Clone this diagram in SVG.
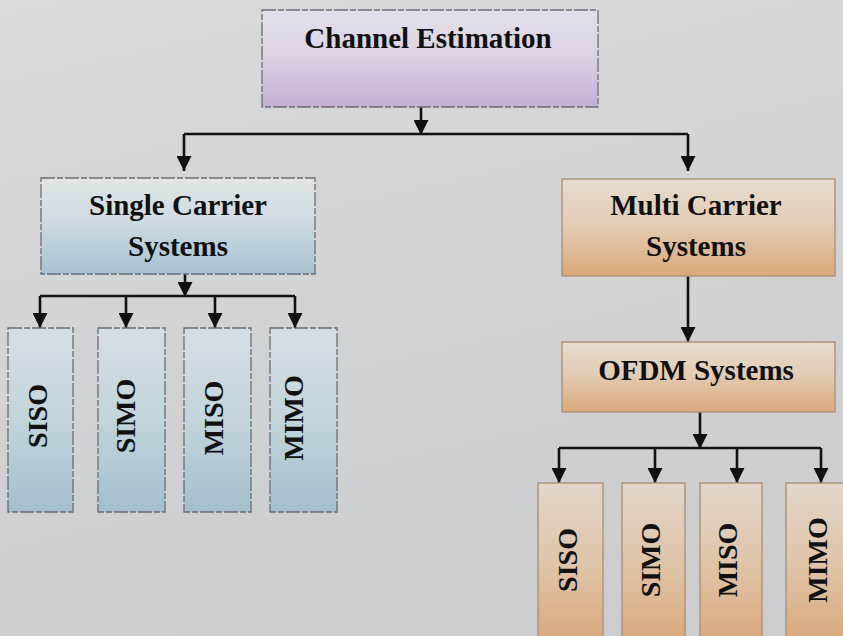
<svg xmlns="http://www.w3.org/2000/svg" width="843" height="636" viewBox="0 0 843 636">
  <defs>
    <linearGradient id="bg" x1="0" y1="0" x2="0.3" y2="1">
      <stop offset="0" stop-color="#d9dbdb"/>
      <stop offset="1" stop-color="#cbcdce"/>
    </linearGradient>
    <linearGradient id="gPurple" x1="0" y1="0" x2="0" y2="1">
      <stop offset="0" stop-color="#e3e0e8"/>
      <stop offset="0.45" stop-color="#dcd3e4"/>
      <stop offset="1" stop-color="#c4afd6"/>
    </linearGradient>
    <linearGradient id="gBlue" x1="0" y1="0" x2="0" y2="1">
      <stop offset="0" stop-color="#e0e4e6"/>
      <stop offset="0.4" stop-color="#d2dde2"/>
      <stop offset="1" stop-color="#a6c2d2"/>
    </linearGradient>
    <linearGradient id="gBlueTall" x1="0" y1="0" x2="0" y2="1">
      <stop offset="0" stop-color="#d6dfe3"/>
      <stop offset="0.5" stop-color="#c2d4dc"/>
      <stop offset="1" stop-color="#a3bfcd"/>
    </linearGradient>
    <linearGradient id="gOrange" x1="0" y1="0" x2="0" y2="1">
      <stop offset="0" stop-color="#e6dbcf"/>
      <stop offset="0.45" stop-color="#e3cdb6"/>
      <stop offset="1" stop-color="#daa879"/>
    </linearGradient>
    <linearGradient id="gOrangeTall" x1="0" y1="0" x2="0" y2="1">
      <stop offset="0" stop-color="#e2d6ca"/>
      <stop offset="0.5" stop-color="#dfc3a6"/>
      <stop offset="1" stop-color="#d8a474"/>
    </linearGradient>
    <marker id="arrow" viewBox="0 0 10 10" refX="10" refY="5" markerWidth="17" markerHeight="15" markerUnits="userSpaceOnUse" orient="auto">
      <path d="M0,0 L10,5 L0,10 z" fill="#111"/>
    </marker>
    <style>
      .box { stroke: #6c6c72; stroke-width: 1.3; stroke-dasharray: 14 2 6 2; }
      .obox { stroke: #b09478; stroke-width: 1.5; }
      .lbl { font-family: "Liberation Serif", "Times New Roman", serif; font-weight: bold; font-size: 29px; fill: #111; text-anchor: middle; }
      .vlbl { font-family: "Liberation Serif", "Times New Roman", serif; font-weight: bold; font-size: 28px; fill: #111; text-anchor: middle; }
      .ln { fill: none; stroke: #111; stroke-width: 2.6; }
      .ar { fill: none; stroke: #111; stroke-width: 2.6; marker-end: url(#arrow); }
    </style>
  </defs>

  <rect x="0" y="0" width="843" height="636" fill="url(#bg)"/>

  <g id="connectors">
    <path class="ar" d="M421,107 V135"/>
    <path class="ln" d="M184,134 H688"/>
    <path class="ar" d="M184,134 V171"/>
    <path class="ar" d="M688,134 V171"/>

    <path class="ar" d="M185,274 V297"/>
    <path class="ln" d="M40,296 H295"/>
    <path class="ar" d="M40,296 V328"/>
    <path class="ar" d="M126,296 V328"/>
    <path class="ar" d="M215,296 V328"/>
    <path class="ar" d="M295,296 V328"/>

    <path class="ar" d="M688,276 V342"/>

    <path class="ar" d="M700,412 V449"/>
    <path class="ln" d="M559,448 H821"/>
    <path class="ar" d="M559,448 V483"/>
    <path class="ar" d="M655,448 V483"/>
    <path class="ar" d="M737,448 V483"/>
    <path class="ar" d="M821,448 V483"/>
  </g>

  <g id="channel-estimation">
    <rect class="box" x="262" y="10" width="336" height="97" fill="url(#gPurple)"/>
    <text class="lbl" x="428" y="48">Channel Estimation</text>
  </g>

  <g id="single-carrier">
    <rect class="box" x="41" y="178" width="274" height="96" fill="url(#gBlue)"/>
    <text class="lbl" x="178" y="215">Single Carrier</text>
    <text class="lbl" x="178" y="256">Systems</text>
  </g>

  <g id="multi-carrier">
    <rect class="obox" x="562" y="179" width="273" height="97" fill="url(#gOrange)"/>
    <text class="lbl" x="696" y="215">Multi Carrier</text>
    <text class="lbl" x="696" y="256">Systems</text>
  </g>

  <g id="ofdm">
    <rect class="obox" x="562" y="342" width="273" height="70" fill="url(#gOrange)"/>
    <text class="lbl" x="696" y="380">OFDM Systems</text>
  </g>

  <g id="sc-siso">
    <rect class="box" x="8" y="328" width="65" height="184" fill="url(#gBlueTall)"/>
    <text class="vlbl" transform="translate(47,416) rotate(-90)">SISO</text>
  </g>
  <g id="sc-simo">
    <rect class="box" x="98" y="328" width="67" height="184" fill="url(#gBlueTall)"/>
    <text class="vlbl" transform="translate(135,416) rotate(-90)">SIMO</text>
  </g>
  <g id="sc-miso">
    <rect class="box" x="184" y="328" width="67" height="184" fill="url(#gBlueTall)"/>
    <text class="vlbl" transform="translate(223,418) rotate(-90)">MISO</text>
  </g>
  <g id="sc-mimo">
    <rect class="box" x="270" y="328" width="67" height="184" fill="url(#gBlueTall)"/>
    <text class="vlbl" transform="translate(303,418) rotate(-90)">MIMO</text>
  </g>

  <g id="mc-siso">
    <rect class="obox" x="538" y="483" width="65" height="170" fill="url(#gOrangeTall)"/>
    <text class="vlbl" transform="translate(577,560) rotate(-90)">SISO</text>
  </g>
  <g id="mc-simo">
    <rect class="obox" x="622" y="483" width="63" height="170" fill="url(#gOrangeTall)"/>
    <text class="vlbl" transform="translate(660,560) rotate(-90)">SIMO</text>
  </g>
  <g id="mc-miso">
    <rect class="obox" x="700" y="483" width="62" height="170" fill="url(#gOrangeTall)"/>
    <text class="vlbl" transform="translate(737,560) rotate(-90)">MISO</text>
  </g>
  <g id="mc-mimo">
    <rect class="obox" x="786" y="483" width="70" height="170" fill="url(#gOrangeTall)"/>
    <text class="vlbl" transform="translate(827,560) rotate(-90)">MIMO</text>
  </g>
</svg>
